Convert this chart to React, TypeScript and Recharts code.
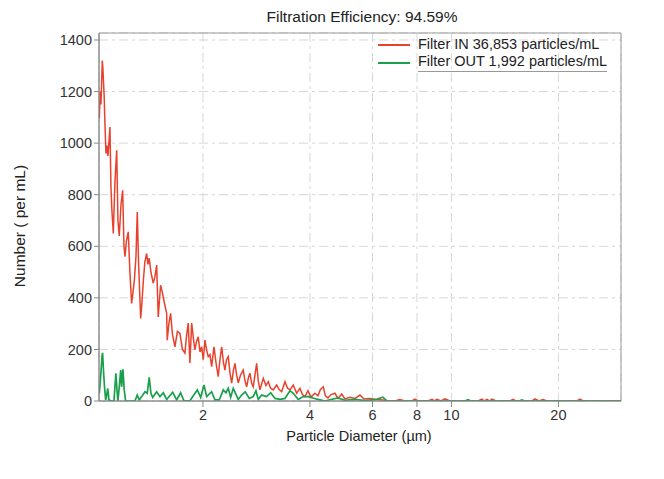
import { LineChart, Line, XAxis, YAxis, CartesianGrid, ReferenceArea } from 'recharts';

// particle diameter (µm) and counts per mL
const inDiameter = [
    1.022, 1.028, 1.033, 1.042, 1.046, 1.055, 1.060, 1.067, 1.074, 1.081,
    1.095, 1.102, 1.109, 1.119, 1.131, 1.144, 1.153, 1.163, 1.176, 1.189,
    1.199, 1.207, 1.218, 1.233, 1.246, 1.260, 1.271, 1.283, 1.296, 1.307,
    1.317, 1.336, 1.347, 1.360, 1.373, 1.389, 1.400, 1.412, 1.428, 1.449,
    1.465, 1.482, 1.497, 1.520, 1.538, 1.558, 1.581, 1.587, 1.604, 1.622,
    1.641, 1.668, 1.695, 1.723, 1.751, 1.780, 1.797, 1.818, 1.838, 1.859,
    1.881, 1.899, 1.918, 1.940, 1.962, 1.983, 2.004, 2.026, 2.046, 2.070,
    2.093, 2.116, 2.148, 2.176, 2.208, 2.233, 2.258, 2.284, 2.306, 2.329,
    2.356, 2.382, 2.409, 2.437, 2.461, 2.488, 2.514, 2.550, 2.596, 2.625,
    2.654, 2.685, 2.711, 2.741, 2.770, 2.801, 2.832, 2.861, 2.893, 2.956,
    3.008, 3.053, 3.097, 3.153, 3.224, 3.272, 3.330, 3.402, 3.457, 3.514,
    3.590, 3.670, 3.749, 3.810, 3.873, 3.949, 4.026, 4.131, 4.212, 4.281,
    4.360, 4.422, 4.495, 4.583, 4.703, 4.796, 4.912, 5.018, 5.183, 5.354,
    5.530, 5.675, 5.900, 6.134, 6.418,
    6.716, 6.937, 7.165, 7.401, 7.745, 7.897, 8.052, 8.591, 8.816, 8.960,
    9.107, 9.346, 9.591, 9.907, 11.877, 12.189, 12.388, 12.590, 12.796, 13.006,
    13.347, 14.615, 14.901, 15.194, 16.849, 17.180, 17.631, 18.094, 18.569, 22.555,
    22.998, 23.450, 30,
];
const inCount = [
    1096, 1200, 1150, 1320, 1290, 1178, 1076, 960, 990, 950,
    1062, 830, 740, 650, 850, 972, 700, 640, 760, 817,
    600, 560, 620, 656, 500, 378, 420, 470, 560, 733,
    550, 320, 380, 470, 540, 572, 530, 554, 500, 457,
    480, 527, 326, 449, 420, 380, 340, 236, 300, 340,
    260, 210, 270, 262, 200, 186, 250, 302, 147, 302,
    240, 198, 230, 249, 190, 210, 160, 236, 200, 172,
    180, 133, 210, 150, 94, 160, 210, 150, 120, 160,
    172, 110, 69, 120, 146, 100, 70, 100, 120, 80,
    55, 90, 108, 70, 55, 100, 146, 80, 43, 88,
    60, 75, 50, 43, 62, 45, 36, 75, 50, 43,
    62, 30, 49, 25, 17, 40, 15, 30, 20, 45,
    55, 20, 12, 25, 30, 10, 27, 8, 14, 10,
    23, 8, 10, 6, 4,
    0, 0, 6, 0, 0, 7, 0, 0, 6, 0,
    6, 0, 8, 0, 0, 7, 0, 6, 0, 7,
    0, 0, 6, 0, 0, 8, 0, 6, 0, 0,
    7, 0, 0,
];

const outDiameter = [
    1.022, 1.031, 1.040, 1.044, 1.051, 1.058, 1.065, 1.072, 1.079, 1.088,
    1.107, 1.124, 1.131, 1.138, 1.146, 1.153, 1.163, 1.174, 1.181, 1.191,
    1.201, 1.212, 1.287, 1.307, 1.324, 1.345, 1.374, 1.394, 1.412, 1.428,
    1.444, 1.482, 1.514, 1.547, 1.581, 1.644, 1.687, 1.731, 1.768, 1.838,
    1.928, 1.971, 2.013, 2.049, 2.116, 2.162, 2.223, 2.281, 2.321, 2.356,
    2.393, 2.434, 2.514, 2.570, 2.631, 2.700, 2.770, 2.819, 2.862, 2.925,
    3.022, 3.101, 3.189, 3.294, 3.402, 3.514, 3.590, 3.708, 3.830, 3.956,
    4.186, 4.408, 4.554, 4.796, 5.018, 5.354, 5.712, 6.094, 6.419, 6.587,
    6.937, 10.918, 11.132, 11.350, 15.489, 15.793, 16.102, 30,
];
const outCount = [
    30, 94, 172, 187, 107, 49, 4, 23, 49, 4,
    0, 0, 55, 107, 43, 0, 55, 120, 55, 123,
    43, 0, 0, 23, 4, 17, 36, 30, 92, 30,
    14, 36, 17, 32, 6, 34, 4, 32, 1, 1,
    43, 14, 62, 17, 36, 4, 4, 43, 32, 49,
    14, 49, 6, 23, 36, 10, 17, 40, 6, 23,
    17, 32, 10, 6, 10, 40, 30, 6, 17, 17,
    7, 0, 5, 12, 3, 6, 2, 5, 15, 0,
    0, 0, 5, 0, 0, 4, 0, 0,
];

const xTicks = [2, 4, 6, 8, 10, 20];
const yTicks = [0, 200, 400, 600, 800, 1000, 1200, 1400];

const inData = inDiameter.map((d, i) => ({ d, n: inCount[i] }));
const outData = outDiameter.map((d, i) => ({ d, n: outCount[i] }));

const RED = '#e8412c';
const GREEN = '#1a9f4b';
const FONT = '"Liberation Sans", Arial, sans-serif';
const tickStyle = { fill: '#333', fontSize: 14.5, fontFamily: FONT };

export default function App() {
    return (
        <div style={{ position: 'absolute', left: 0, top: 0, width: 664, height: 479, background: '#fff', fontFamily: FONT, color: '#222' }}>
            <LineChart width={664} height={479} margin={{ top: 33, right: 43, left: 39, bottom: 48 }}>
                <CartesianGrid stroke="#d6d6d6" strokeDasharray="9 4 3 4" />
                <ReferenceArea x1={1.02} x2={30} y1={0} y2={1427} fill="none" stroke="#9a9a9a" ifOverflow="visible" />
                <XAxis
                    dataKey="d"
                    type="number"
                    scale="log"
                    domain={[1.02, 30]}
                    allowDataOverflow
                    ticks={xTicks}
                    height={30}
                    tickSize={6}
                    tickMargin={3}
                    stroke="#888"
                    tick={tickStyle}
                />
                <YAxis
                    type="number"
                    domain={[0, 1427]}
                    allowDataOverflow
                    ticks={yTicks}
                    width={60}
                    tickSize={5}
                    tickMargin={2}
                    stroke="#888"
                    tick={tickStyle}
                />
                <Line data={inData} dataKey="n" type="linear" stroke={RED} strokeWidth={1.5} dot={false} isAnimationActive={false} />
                <Line data={outData} dataKey="n" type="linear" stroke={GREEN} strokeWidth={1.7} dot={false} isAnimationActive={false} />
            </LineChart>

            <div style={{ position: 'absolute', left: 0, width: 724, top: 8, textAlign: 'center', fontSize: 15.5 }}>
                Filtration Efficiency: 94.59%
            </div>
            <div style={{ position: 'absolute', left: 0, width: 718, top: 428, textAlign: 'center', fontSize: 14.5 }}>
                Particle Diameter (µm)
            </div>
            <div style={{ position: 'absolute', left: 20, top: 226, width: 0, height: 0 }}>
                <div style={{ position: 'absolute', transform: 'translate(-50%, -50%) rotate(-90deg)', whiteSpace: 'nowrap', fontSize: 15.5 }}>
                    Number ( per mL)
                </div>
            </div>

            <div style={{ position: 'absolute', left: 378, top: 36, fontSize: 14.5, lineHeight: '17px' }}>
                <div style={{ display: 'flex', alignItems: 'center' }}>
                    <span style={{ width: 32, height: 2, background: RED, marginRight: 8 }} />
                    <span>Filter IN 36,853 particles/mL</span>
                </div>
                <div style={{ display: 'flex', alignItems: 'center' }}>
                    <span style={{ width: 32, height: 2, background: GREEN, marginRight: 8 }} />
                    <span style={{ borderBottom: '1px solid #999', paddingBottom: 1 }}>Filter OUT 1,992 particles/mL</span>
                </div>
            </div>
        </div>
    );
}
